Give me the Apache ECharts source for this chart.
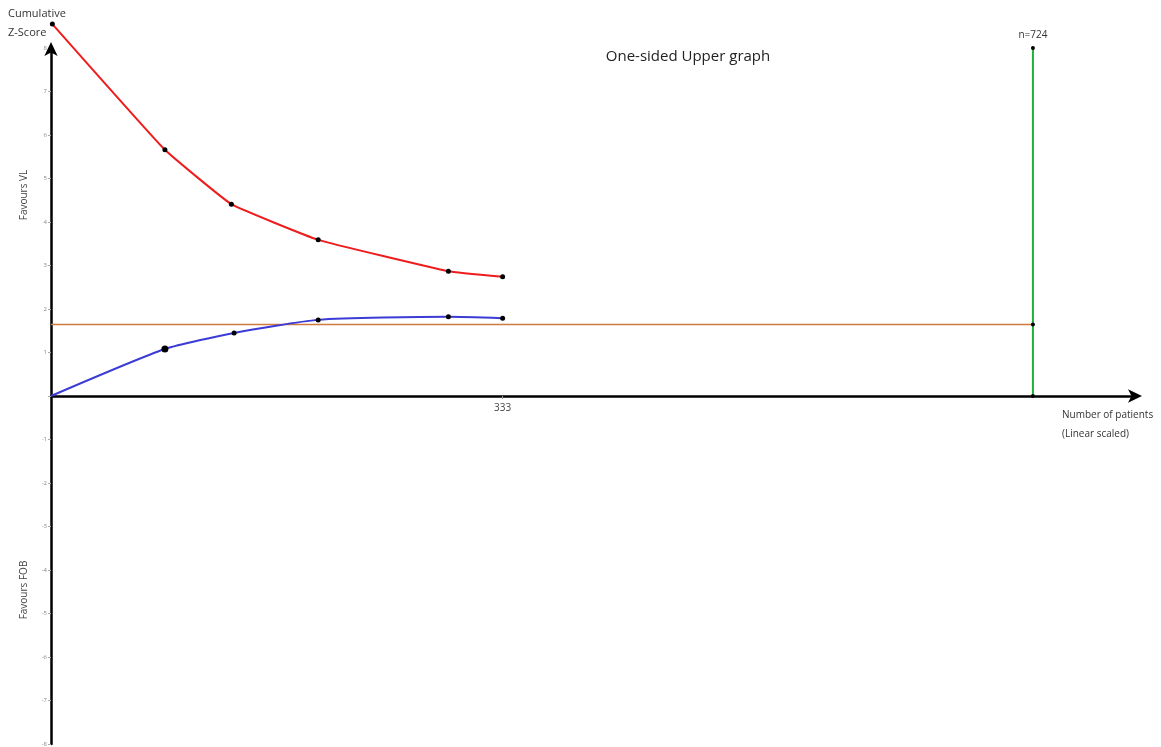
<!DOCTYPE html>
<html>
<head>
<meta charset="utf-8">
<script src="https://cdn.jsdelivr.net/npm/echarts@6/dist/echarts.min.js"></script>
<style>html,body{margin:0;padding:0;background:#fff}#c{width:1161px;height:747px}</style>
</head>
<body>
<div id="c"></div>
<script>
// Data
const upperBoundaryX = [1, 84, 133, 197, 293, 333];
const upperBoundaryZ = [8.55, 5.66, 4.41, 3.59, 2.87, 2.74];
const cumulativeZX = [0, 84, 135, 197, 293, 333];
const cumulativeZ = [0, 1.08, 1.45, 1.75, 1.82, 1.79];
const conventionalZ = 1.645;
const requiredInfoSize = 724;
const requiredTop = 8;
const xTickValues = [333];
const yTickLabels = ['-8','-7','-6','-5','-4','-3','-2','-1','','1','2','3','4','5','6','7','8'];

const FONT = '"Open Sans", "Noto Sans", sans-serif';
const zip = (a, b) => a.map((v, i) => [v, b[i]]);

const GRID_TOP = 48, GRID_BOTTOM = 3, H = 747;
const plotH = H - GRID_TOP - GRID_BOTTOM;
const zeroOffset = -plotH / 2; // x axis sits at z = 0 (middle of -8..8)

const chart = echarts.init(document.getElementById('c'), null, {renderer: 'canvas'});
chart.setOption({
  animation: false,
  backgroundColor: '#fff',
  grid: {left: 51, right: 25, top: GRID_TOP, bottom: GRID_BOTTOM, containLabel: false, outerBoundsMode: 'none'},
  xAxis: {
    type: 'value', min: 0, max: 800, position: 'bottom', offset: zeroOffset,
    splitLine: {show: false},
    axisLine: {onZero: false, lineStyle: {color: '#000', width: 2.5}, symbol: ['none', 'arrow'], symbolSize: [10, 14], symbolOffset: [0, 6]},
    axisTick: {show: true, customValues: xTickValues, length: 3, lineStyle: {color: '#999'}},
    axisLabel: {show: true, customValues: xTickValues, color: '#444', fontSize: 10, fontFamily: FONT, margin: 7}
  },
  yAxis: {
    type: 'value', min: -8, max: 8, interval: 1,
    splitLine: {show: false},
    axisLine: {onZero: false, lineStyle: {color: '#000', width: 2.5}, symbol: ['none', 'arrow'], symbolSize: [10, 14], symbolOffset: [0, 6]},
    axisTick: {show: true, length: 3, lineStyle: {color: '#aaa'}},
    axisLabel: {color: '#888', fontSize: 6, fontFamily: FONT, margin: 4, showMaxLabel: true,
      formatter: v => yTickLabels[Math.round(v) + 8]}
  },
  graphic: [
    {type: 'text', left: 8, top: 8, style: {text: 'Cumulative', font: '11px ' + FONT, fill: '#333'}},
    {type: 'text', left: 8, top: 27, style: {text: 'Z-Score', font: '11px ' + FONT, fill: '#333'}},
    {type: 'text', x: 24, y: 195, rotation: Math.PI / 2, style: {text: 'Favours VL', font: '10px ' + FONT, fill: '#444', align: 'center', verticalAlign: 'middle'}},
    {type: 'text', x: 24, y: 590, rotation: Math.PI / 2, style: {text: 'Favours FOB', font: '10px ' + FONT, fill: '#444', align: 'center', verticalAlign: 'middle'}},
    {type: 'text', x: 688, y: 57, style: {text: 'One-sided Upper graph', font: '15px ' + FONT, fill: '#222', align: 'center', verticalAlign: 'middle'}},
    {type: 'text', left: 1062, top: 410, style: {text: 'Number of patients', font: '10px ' + FONT, fill: '#333'}},
    {type: 'text', left: 1062, top: 429, style: {text: '(Linear scaled)', font: '10px ' + FONT, fill: '#333'}}
  ],
  series: [
    {
      name: 'Conventional boundary', type: 'line', z: 2,
      data: [[0, conventionalZ], [requiredInfoSize, conventionalZ]],
      symbol: 'none', lineStyle: {color: '#d07a40', width: 1.5}
    },
    {
      name: 'Required information size', type: 'line', z: 3,
      data: [[requiredInfoSize, 0], [requiredInfoSize, conventionalZ], [requiredInfoSize, requiredTop]],
      symbol: 'circle', symbolSize: 4, itemStyle: {color: '#000'},
      lineStyle: {color: '#22b03a', width: 2},
      label: {show: true, formatter: p => p.dataIndex === 2 ? 'n=' + requiredInfoSize : '', position: 'top', distance: 6, color: '#333', fontSize: 10, fontFamily: FONT}
    },
    {
      name: 'Upper boundary', type: 'line', z: 4, clip: false, smooth: 0.1,
      data: zip(upperBoundaryX, upperBoundaryZ),
      symbol: 'circle', symbolSize: 5, itemStyle: {color: '#000'},
      lineStyle: {color: '#ee1c1c', width: 2}
    },
    {
      name: 'Cumulative Z', type: 'line', z: 4, smooth: 0.2,
      data: zip(cumulativeZX, cumulativeZ).map((d, i) => ({value: d, symbolSize: i === 0 ? 0 : (i === 1 ? 7 : 5)})),
      symbol: 'circle', itemStyle: {color: '#000'},
      lineStyle: {color: '#3b3bd6', width: 2}
    }
  ]
});
</script>
</body>
</html>
